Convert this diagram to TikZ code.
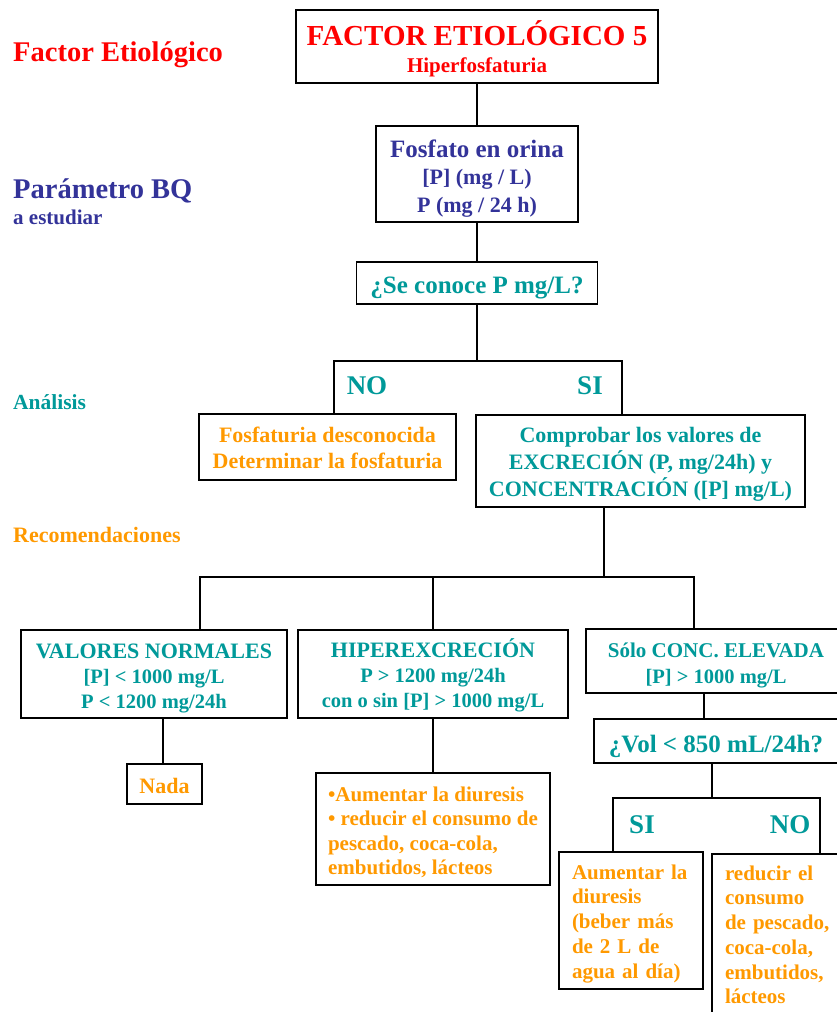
\documentclass[tikz,border=0pt]{standalone}
\usepackage{fontspec}
\setmainfont{Liberation Serif}
\usetikzlibrary{positioning}
\definecolor{rojo}{RGB}{255,0,0}
\definecolor{azul}{RGB}{51,51,153}
\definecolor{verde}{RGB}{0,153,153}
\definecolor{naranja}{RGB}{255,153,0}
\newcommand{\fsz}[2]{\fontsize{#1}{#2}\selectfont}
% struts to fix the text position inside a box
\newcommand{\tope}[1]{\rule{0pt}{#1pt}}
\newcommand{\fondo}[1]{\rule[-#1pt]{0pt}{0pt}}

\begin{document}
\begin{tikzpicture}[x=1pt, y=-1pt,
cajanode/.style={rectangle, draw=black, line width=1.7pt, inner sep=0pt, align=center},
listanode/.style={rectangle, draw=black, line width=1.7pt, inner ysep=0pt, inner xsep=13pt, align=left, text=naranja, font=\fsz{21}{24.75}\bfseries},
textonode/.style={anchor=base west, inner sep=0pt},
sinonode/.style={anchor=base, inner sep=0pt, text=verde, font=\fsz{27}{27}\bfseries},
linea/.style={line width=1.7pt},
]
\useasboundingbox (0,0) rectangle (837,1012);
\clip (0,0) rectangle (837,1012);

%Left labels
\node[textonode, text=rojo, font=\fsz{28.5}{30}\bfseries] (lfactor) at (13,61) {Factor Etiológico};
\node[textonode, text=azul, font=\fsz{28.5}{30}\bfseries] (lparam) at (13,198) {Parámetro BQ};
\node[textonode, text=azul, font=\fsz{21}{24}\bfseries] (lestudiar) at (13,224) {a estudiar};
\node[textonode, text=verde, font=\fsz{21.5}{24}\bfseries] (lanalisis) at (13,409) {Análisis};
\node[textonode, text=naranja, font=\fsz{22}{24}\bfseries] (lrecom) at (13,542) {Recomendaciones};

%Nodes
\node[cajanode, minimum width=362pt, minimum height=73pt, text=rojo, font=\fsz{21}{27}\bfseries] (factor) at (477,46.5) {{\fsz{29}{27}\tope{30}FACTOR ETIOLÓGICO 5}\\Hiperfosfaturia\fondo{6}};
\node[cajanode, minimum width=202pt, minimum height=96pt, text=azul, font=\fsz{22}{27.5}\bfseries] (fosfato) at (477,174) {{\fsz{25}{27.5}\tope{27}Fosfato en orina}\\{}[P] (mg / L)\\P (mg / 24 h)\fondo{6}};
\node[cajanode, minimum width=241pt, minimum height=42pt, text=verde, font=\fsz{25}{27}\bfseries] (conoce) at (477,283) {\tope{26}¿Se conoce P mg/L?\fondo{6}};
\node[sinonode] (no1) at (367,394) {NO};
\node[sinonode] (si1) at (590,394) {SI};
\node[cajanode, minimum width=257pt, minimum height=66pt, text=naranja, font=\fsz{22}{26}\bfseries] (descon) at (327.5,447) {\tope{22}Fosfaturia desconocida\\Determinar la fosfaturia\fondo{6}};
\node[cajanode, minimum width=329pt, minimum height=92pt, text=verde, font=\fsz{22}{27}\bfseries] (comprobar) at (640.5,461) {\tope{22}Comprobar los valores de\\EXCRECIÓN (P, mg/24h) y\\CONCENTRACIÓN ([P] mg/L)\fondo{6}};
\node[cajanode, minimum width=266pt, minimum height=88pt, text=verde, font=\fsz{20.5}{25}\bfseries] (normales) at (154,674) {{\fsz{22}{25}\tope{24}VALORES NORMALES}\\{}[P] < 1000 mg/L\\P < 1200 mg/24h\fondo{6}};
\node[cajanode, minimum width=270pt, minimum height=88pt, text=verde, font=\fsz{20.5}{25}\bfseries] (hiper) at (433,674) {{\fsz{22}{25}\tope{22}HIPEREXCRECIÓN}\\P > 1200 mg/24h\\con o sin [P] > 1000 mg/L\fondo{6}};
\node[cajanode, minimum width=260pt, minimum height=64pt, text=verde, font=\fsz{20.5}{26}\bfseries] (solo) at (716,661) {{\fsz{21}{26}\tope{24}Sólo CONC. ELEVADA}\\{}[P] > 1000 mg/L\fondo{6}};
\node[cajanode, minimum width=75pt, minimum height=40pt, text=naranja, font=\fsz{22}{25}\bfseries] (nada) at (164.5,784) {\tope{24}Nada\fondo{6}};
\node[listanode, inner xsep=0pt, minimum width=234pt, minimum height=112pt, font=\fsz{21}{24.5}\bfseries] (consejo) at (433,829) {\tope{23.5}•Aumentar la diuresis\\• reducir el consumo de\\pescado, coca-cola,\\embutidos, lácteos\fondo{6}};
\node[cajanode, minimum width=244pt, minimum height=44pt, text=verde, font=\fsz{25}{27}\bfseries] (vol) at (716,741) {\tope{28}¿Vol < 850 mL/24h?\fondo{6}};
\node[sinonode] (si2) at (642,833) {SI};
\node[sinonode] (no2) at (790,833) {NO};
\node[listanode, text width=118pt, minimum height=137pt] (beber) at (631,920.5) {\tope{22}Aumentar la\\diuresis\\(beber más\\de 2 L de\\agua al día)\fondo{6}};
\node[listanode, text width=125pt, minimum height=160pt] (reducir) at (787.5,934) {\tope{22}reducir el\\consumo\\de pescado,\\coca-cola,\\embutidos,\\lácteos\fondo{6}};

%Lines
\coordinate (ramaA) at (477,361);
\coordinate (noA) at (334,414);
\coordinate (siA) at (622,415);
\coordinate (ramaB) at (604,577);
\coordinate (normA) at (200,630);
\coordinate (soloA) at (694,629);
\coordinate (bajaN) at (163,740);
\coordinate (bajaC) at (704,706);
\coordinate (ramaC) at (712,798);
\coordinate (siC) at (613,852);
\coordinate (noC) at (820,854);
\draw[linea] (factor) -- (fosfato);
\draw[linea] (fosfato) -- (conoce);
\draw[linea] (conoce.south -| ramaA) -- (ramaA);
\draw[linea] (noA) |- (ramaA) -| (siA);
\draw[linea] (comprobar.south -| ramaB) -- (ramaB);
\draw[linea] (normA) |- (ramaB) -| (soloA);
\draw[linea] (hiper.north) -- (hiper.north |- ramaB);
\draw[linea] (normales.south -| bajaN) -- (nada.north -| bajaN);
\draw[linea] (hiper) -- (consejo);
\draw[linea] (solo.south -| bajaC) -- (vol.north -| bajaC);
\draw[linea] (vol.south -| ramaC) -- (ramaC);
\draw[linea] (siC) |- (ramaC) -| (noC);
\end{tikzpicture}
\end{document}
